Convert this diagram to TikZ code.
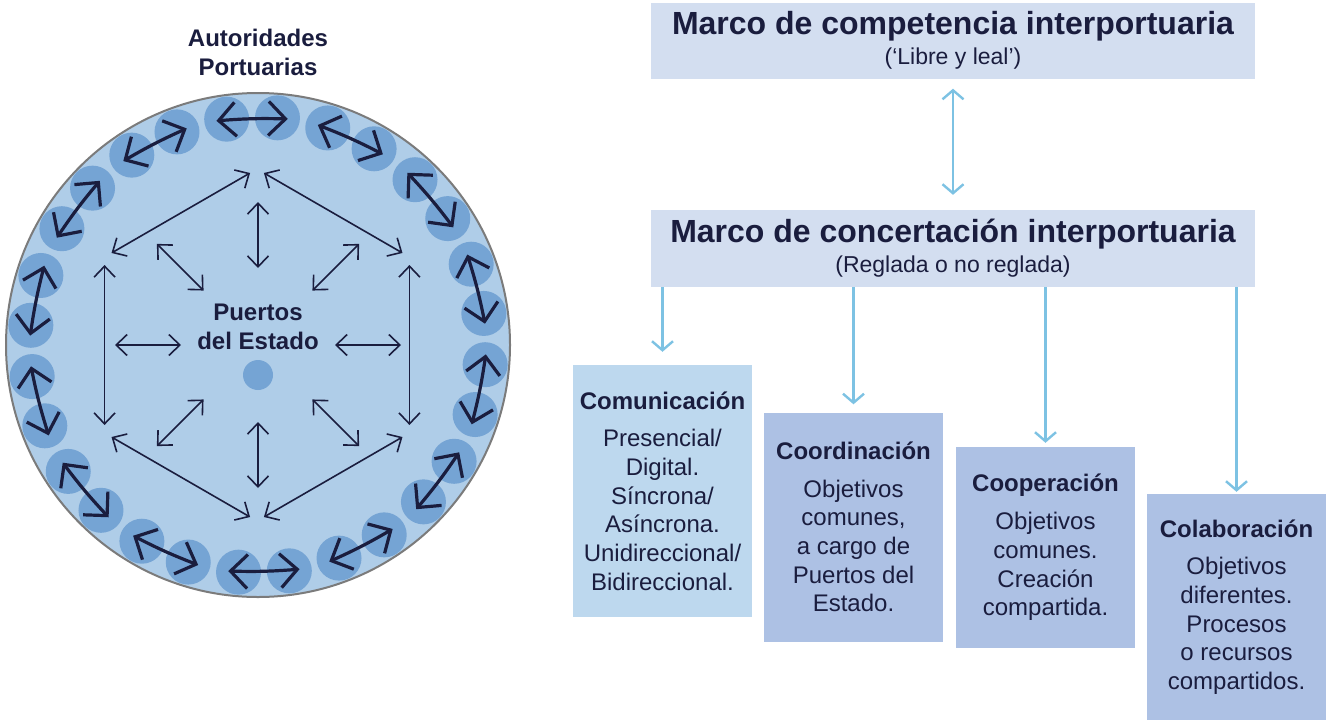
\documentclass[tikz,border=0pt]{standalone}
\usepackage{fontspec}
\setmainfont{Liberation Sans}
\usetikzlibrary{arrows.meta}
\definecolor{ink}{HTML}{1A1D3E}
\definecolor{seablue}{HTML}{AFCDE8}
\definecolor{dotblue}{HTML}{75A4D4}
\definecolor{paleblue}{HTML}{D3DEF0}
\definecolor{skyblue}{HTML}{BDD8EE}
\definecolor{midblue}{HTML}{ADC1E4}
\definecolor{linkblue}{HTML}{7DC2E3}
\definecolor{rimgray}{HTML}{7B7B7B}

\tikzset{
  bigtip/.tip={Straight Barb[length=17pt,width=34pt]},
  thintip/.tip={Straight Barb[length=11pt,width=21pt]},
  lbtip/.tip={Straight Barb[length=9pt,width=21pt]},
  bigarrow/.style={ink, line width=3.2pt, bigtip-bigtip},
  thinarrow/.style={ink, line width=1.6pt, thintip-thintip},
  link/.style={linkblue, line width=2.4pt, -lbtip},
  frame/.style={fill=paleblue, minimum width=604pt, inner sep=0pt, align=center, text=ink, font=\fontsize{23}{30}\selectfont},
  card/.style={minimum width=179pt, inner sep=0pt, align=center, text=ink, font=\fontsize{24}{28.7}\selectfont},
  lbl/.style={text=ink, align=center, font=\fontsize{24}{29}\selectfont\bfseries},
}
\newcommand{\headline}[1]{{\fontsize{32}{30}\selectfont\bfseries #1}}

\begin{document}
\begin{tikzpicture}[x=1pt,y=-1pt]
	\useasboundingbox (0,0) rectangle (1332,720);

	\draw[rimgray, line width=2pt, fill=seablue] (258,345) circle (252pt);
	\foreach \k in {0,...,13}{
		\pgfmathsetmacro\a{91.5-\k*360/14}
		\fill[dotblue] ({258+228*cos(\a+6.4)},{345-228*sin(\a+6.4)}) circle (22.5pt);
		\fill[dotblue] ({258+228*cos(\a-6.4)},{345-228*sin(\a-6.4)}) circle (22.5pt);
		\draw[bigarrow] ({258+228*cos(\a+9)},{345-228*sin(\a+9)}) to[bend left=3] ({258+228*cos(\a-9)},{345-228*sin(\a-9)});
	}

	\foreach \i in {0,...,5}
		\coordinate (h\i) at ({257+176*cos(90+60*\i)},{345-176*sin(90+60*\i)});
	\foreach \i/\j in {0/1,1/2,2/3,3/4,4/5,5/0}
		\draw[thinarrow, shorten <=8pt, shorten >=8pt] (h\i) -- (h\j);
	\foreach \t in {0,45,...,315}
		\draw[thinarrow] ({258+77*cos(\t)},{345-77*sin(\t)}) -- ({258+143*cos(\t)},{345-143*sin(\t)});
	\fill[dotblue] (258,375) circle (15pt);

	\node[lbl] (ap) at (258,52) {Autoridades\\Portuarias};
	\node[lbl] (pe) at (258,327) {Puertos\\del Estado};

	\node[frame, minimum height=76pt] (comp) at (953,40.5) {\headline{Marco de competencia interportuaria}\\(‘Libre y leal’)};
	\node[frame, minimum height=77pt] (conc) at (953,248.5) {\headline{Marco de concertación interportuaria}\\(Reglada o no reglada)};

	\node[card, fill=skyblue, minimum height=252pt] (com) at (662.5,491) {\textbf{Comunicación}\\[9pt]Presencial/\\Digital.\\Síncrona/\\Asíncrona.\\Unidireccional/\\Bidireccional.};
	\node[card, fill=midblue, minimum height=229pt] (coo) at (853.5,527) {\textbf{Coordinación}\\[9pt]Objetivos\\comunes,\\a cargo de\\Puertos del\\Estado.};
	\node[card, fill=midblue, minimum height=201pt] (cop) at (1045.5,547.5) {\textbf{Cooperación}\\[9pt]Objetivos\\comunes.\\Creación\\compartida.};
	\node[card, fill=midblue, minimum height=226pt] (col) at (1236.5,607) {\textbf{Colaboración}\\[9pt]Objetivos\\diferentes.\\Procesos\\o recursos\\compartidos.};

	\draw[link, lbtip-lbtip, shorten <=10pt, shorten >=15pt] (comp) -- (conc);
	\draw[link] (conc.south -| com) -- ([yshift=13pt]com.north);
	\draw[link] (conc.south -| coo) -- ([yshift=8pt]coo.north);
	\draw[link] (conc.south -| cop) -- ([yshift=4pt]cop.north);
	\draw[link] (conc.south -| col) -- ([yshift=2pt]col.north);
\end{tikzpicture}
\end{document}
